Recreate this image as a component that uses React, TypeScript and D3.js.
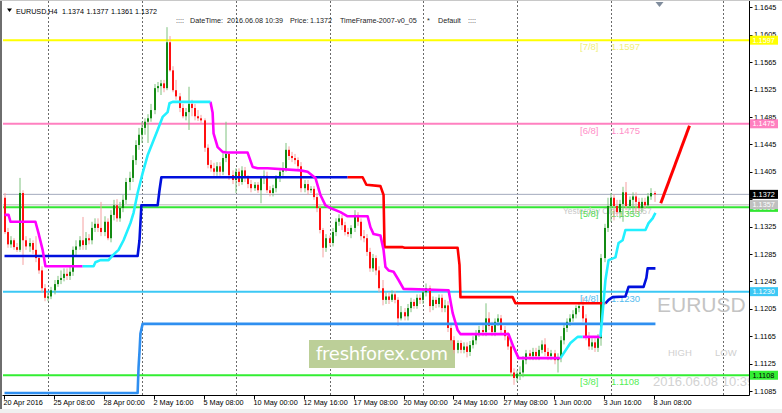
import * as d3 from "d3";

// EURUSD H4, 20 Apr 16:00 .. 8 Jun 08:00 2016 (one entry per bar)
const openPrices = [
  1.1367, 1.1317, 1.1299, 1.1305, 1.1295, 1.1291, 1.1374, 1.1305, 1.1296, 1.1301,
  1.1291, 1.1279, 1.1261, 1.1235, 1.1221, 1.1223, 1.1232, 1.1241, 1.1247, 1.125,
  1.1256, 1.1253, 1.1259, 1.1291, 1.1296, 1.1305, 1.1298, 1.1308, 1.1305, 1.1323,
  1.1329, 1.1323, 1.1317, 1.1332, 1.1308, 1.1342, 1.1356, 1.1337, 1.1352, 1.1364,
  1.139, 1.1396, 1.1422, 1.1444, 1.1459, 1.1469, 1.1478, 1.1483, 1.1495, 1.1527,
  1.153, 1.1534, 1.1527, 1.1594, 1.1553, 1.1524, 1.1515, 1.1498, 1.1486, 1.1492,
  1.1504, 1.1498, 1.1486, 1.1483, 1.148, 1.144, 1.1415, 1.141, 1.1405, 1.1413,
  1.1405, 1.1425, 1.1431, 1.14, 1.1393, 1.1405, 1.139, 1.1407, 1.1396, 1.1387,
  1.1381, 1.1386, 1.1378, 1.1396, 1.1399, 1.1378, 1.1374, 1.1381, 1.1396, 1.1405,
  1.141, 1.1437, 1.1428, 1.1425, 1.1422, 1.1413, 1.1381, 1.1387, 1.1378, 1.138,
  1.1368, 1.1352, 1.132, 1.1294, 1.1308, 1.1301, 1.1317, 1.1332, 1.1337, 1.1327,
  1.1317, 1.1314, 1.1323, 1.1342, 1.1332, 1.1311, 1.1308, 1.1288, 1.1264, 1.1279,
  1.1261, 1.1235, 1.1218, 1.1223, 1.1218, 1.1226, 1.1218, 1.1191, 1.12, 1.1194,
  1.1206, 1.1215, 1.1209, 1.1221, 1.1218, 1.1229, 1.1235, 1.1209, 1.1218, 1.1212,
  1.1221, 1.1206, 1.121, 1.1177, 1.1159, 1.1145, 1.1155, 1.1145, 1.115, 1.1142,
  1.1152, 1.1159, 1.1167, 1.1174, 1.1171, 1.1191, 1.118, 1.1171, 1.1186, 1.1191,
  1.1174, 1.1165, 1.115, 1.1112, 1.1104, 1.111, 1.1112, 1.113, 1.114, 1.1136,
  1.1142, 1.1136, 1.1145, 1.1153, 1.1142, 1.1136, 1.114, 1.113, 1.1133, 1.1159,
  1.1177, 1.1186, 1.1191, 1.1197, 1.1206, 1.1209, 1.1191, 1.1165, 1.115, 1.1156,
  1.1148, 1.1162, 1.1279, 1.1323, 1.1355, 1.1367, 1.1355, 1.1346, 1.1358, 1.1375,
  1.1355, 1.1364, 1.1369, 1.1361, 1.1352, 1.1361, 1.1356, 1.1369, 1.1374,
];
const highPrices = [
  1.1374, 1.1323, 1.1311, 1.1308, 1.1301, 1.1396, 1.1378, 1.1311, 1.1308, 1.1305,
  1.1311, 1.1283, 1.1267, 1.1241, 1.1229, 1.1237, 1.1247, 1.1253, 1.1261, 1.1264,
  1.1264, 1.1267, 1.1296, 1.1305, 1.1311, 1.1339, 1.1317, 1.1314, 1.1332, 1.1337,
  1.1337, 1.1361, 1.134, 1.1337, 1.1349, 1.1364, 1.1365, 1.1361, 1.1371, 1.1396,
  1.1405, 1.1429, 1.1451, 1.1469, 1.1478, 1.1483, 1.1489, 1.1504, 1.1533, 1.1536,
  1.1539, 1.1539, 1.1616, 1.1603, 1.1559, 1.1539, 1.152, 1.1504, 1.1498, 1.1529,
  1.151, 1.1504, 1.1495, 1.1488, 1.1483, 1.1445, 1.1422, 1.1418, 1.1419, 1.1419,
  1.1432, 1.1478, 1.1434, 1.1407, 1.141, 1.141, 1.1413, 1.1412, 1.14, 1.1393,
  1.139, 1.139, 1.1399, 1.1407, 1.1405, 1.1384, 1.1386, 1.14, 1.141, 1.1419,
  1.1447, 1.1442, 1.1434, 1.1431, 1.1426, 1.1419, 1.1393, 1.1393, 1.1384, 1.1384,
  1.1374, 1.1356, 1.1323, 1.1314, 1.1312, 1.1323, 1.1337, 1.1343, 1.1342, 1.1332,
  1.1323, 1.1327, 1.1349, 1.1346, 1.1337, 1.132, 1.1314, 1.1294, 1.1285, 1.1283,
  1.1267, 1.1247, 1.1229, 1.1229, 1.1232, 1.1231, 1.1222, 1.1209, 1.1206, 1.1212,
  1.1221, 1.1219, 1.1226, 1.1226, 1.1235, 1.1242, 1.1239, 1.1223, 1.1222, 1.1226,
  1.1226, 1.1218, 1.1216, 1.1183, 1.1165, 1.1159, 1.1159, 1.1156, 1.1156, 1.1158,
  1.1165, 1.1174, 1.118, 1.1181, 1.1213, 1.12, 1.1186, 1.1191, 1.1197, 1.1196,
  1.118, 1.1171, 1.1156, 1.1118, 1.1115, 1.1121, 1.1136, 1.1145, 1.1145, 1.1148,
  1.1148, 1.1151, 1.1159, 1.1162, 1.1148, 1.1145, 1.1145, 1.114, 1.1165, 1.1183,
  1.1191, 1.1197, 1.1203, 1.121, 1.1215, 1.1222, 1.1197, 1.1171, 1.1162, 1.1162,
  1.1168, 1.1285, 1.1329, 1.1367, 1.1374, 1.1372, 1.1364, 1.1364, 1.1383, 1.139,
  1.1369, 1.1375, 1.1375, 1.1367, 1.1367, 1.1367, 1.1374, 1.1381, 1.1377,
];
const lowPrices = [
  1.1314, 1.1294, 1.1294, 1.1291, 1.1288, 1.1288, 1.1269, 1.1291, 1.1288, 1.1285,
  1.1273, 1.1256, 1.1229, 1.1216, 1.1216, 1.1219, 1.1226, 1.1237, 1.1241, 1.1245,
  1.1247, 1.1247, 1.1253, 1.1282, 1.1291, 1.1291, 1.1291, 1.1299, 1.1299, 1.1317,
  1.1317, 1.1311, 1.1311, 1.1305, 1.1302, 1.1334, 1.1332, 1.1332, 1.1346, 1.1358,
  1.1378, 1.139, 1.1415, 1.1437, 1.1447, 1.1459, 1.1447, 1.1478, 1.1489, 1.1521,
  1.1517, 1.1521, 1.1524, 1.1551, 1.1521, 1.151, 1.1492, 1.1483, 1.148, 1.1466,
  1.1486, 1.148, 1.1479, 1.1475, 1.1434, 1.141, 1.1405, 1.1399, 1.1399, 1.1399,
  1.14, 1.1419, 1.1393, 1.1387, 1.1374, 1.1384, 1.1386, 1.139, 1.1381, 1.1375,
  1.1377, 1.1374, 1.1359, 1.1387, 1.1374, 1.1369, 1.1369, 1.1375, 1.139, 1.1399,
  1.1405, 1.1422, 1.1419, 1.1416, 1.1407, 1.1375, 1.1375, 1.1371, 1.1374, 1.1364,
  1.1346, 1.1315, 1.128, 1.1288, 1.1296, 1.1296, 1.1311, 1.1326, 1.132, 1.1312,
  1.131, 1.1308, 1.1317, 1.1326, 1.1305, 1.1302, 1.1282, 1.1259, 1.1259, 1.1254,
  1.1229, 1.121, 1.1212, 1.1212, 1.1215, 1.1213, 1.118, 1.1188, 1.1188, 1.1188,
  1.12, 1.1205, 1.1205, 1.1212, 1.1212, 1.1223, 1.12, 1.1203, 1.1206, 1.1207,
  1.12, 1.12, 1.1171, 1.1153, 1.114, 1.114, 1.114, 1.114, 1.1134, 1.1136,
  1.1147, 1.1153, 1.1164, 1.1165, 1.1165, 1.1174, 1.1165, 1.1165, 1.118, 1.1168,
  1.1159, 1.1145, 1.1107, 1.1094, 1.1098, 1.1101, 1.1105, 1.1124, 1.113, 1.113,
  1.113, 1.113, 1.114, 1.1136, 1.113, 1.113, 1.1124, 1.1112, 1.1127, 1.1153,
  1.1171, 1.118, 1.1186, 1.1191, 1.12, 1.1186, 1.1159, 1.1145, 1.1145, 1.1142,
  1.1142, 1.1151, 1.1273, 1.1317, 1.1332, 1.1334, 1.134, 1.1337, 1.1332, 1.1349,
  1.1349, 1.1343, 1.1346, 1.1346, 1.1346, 1.1351, 1.1353, 1.1364, 1.1361,
];
const closePrices = [
  1.1317, 1.1299, 1.1305, 1.1295, 1.1291, 1.1374, 1.1305, 1.1296, 1.1301, 1.1291,
  1.1279, 1.1261, 1.1235, 1.1221, 1.1223, 1.1232, 1.1241, 1.1247, 1.125, 1.1256,
  1.1253, 1.1259, 1.1291, 1.1296, 1.1305, 1.1298, 1.1308, 1.1305, 1.1323, 1.1329,
  1.1323, 1.1317, 1.1332, 1.1308, 1.1342, 1.1356, 1.1337, 1.1352, 1.1364, 1.139,
  1.1396, 1.1422, 1.1444, 1.1459, 1.1469, 1.1478, 1.1483, 1.1495, 1.1527, 1.153,
  1.1534, 1.1527, 1.1594, 1.1553, 1.1524, 1.1515, 1.1498, 1.1486, 1.1492, 1.1504,
  1.1498, 1.1486, 1.1483, 1.148, 1.144, 1.1415, 1.141, 1.1405, 1.1413, 1.1405,
  1.1425, 1.1431, 1.14, 1.1393, 1.1405, 1.139, 1.1407, 1.1396, 1.1387, 1.1381,
  1.1386, 1.1378, 1.1396, 1.1399, 1.1378, 1.1374, 1.1381, 1.1396, 1.1405, 1.141,
  1.1437, 1.1428, 1.1425, 1.1422, 1.1413, 1.1381, 1.1387, 1.1378, 1.138, 1.1368,
  1.1352, 1.132, 1.1294, 1.1308, 1.1301, 1.1317, 1.1332, 1.1337, 1.1327, 1.1317,
  1.1314, 1.1323, 1.1342, 1.1332, 1.1311, 1.1308, 1.1288, 1.1264, 1.1279, 1.1261,
  1.1235, 1.1218, 1.1223, 1.1218, 1.1226, 1.1218, 1.1191, 1.12, 1.1194, 1.1206,
  1.1215, 1.1209, 1.1221, 1.1218, 1.1229, 1.1235, 1.1209, 1.1218, 1.1212, 1.1221,
  1.1206, 1.121, 1.1177, 1.1159, 1.1145, 1.1155, 1.1145, 1.115, 1.1142, 1.1152,
  1.1159, 1.1167, 1.1174, 1.1171, 1.1191, 1.118, 1.1171, 1.1186, 1.1191, 1.1174,
  1.1165, 1.115, 1.1112, 1.1104, 1.111, 1.1112, 1.113, 1.114, 1.1136, 1.1142,
  1.1136, 1.1145, 1.1153, 1.1142, 1.1136, 1.114, 1.113, 1.1133, 1.1159, 1.1177,
  1.1186, 1.1191, 1.1197, 1.1206, 1.1209, 1.1191, 1.1165, 1.115, 1.1156, 1.1148,
  1.1162, 1.1279, 1.1323, 1.1355, 1.1367, 1.1355, 1.1346, 1.1358, 1.1375, 1.1355,
  1.1364, 1.1369, 1.1361, 1.1352, 1.1361, 1.1356, 1.1369, 1.1374, 1.1372,
];

// time axis
const timeLabelBars = [0, 16, 32, 48, 64, 80, 96, 112, 128, 144, 160, 176, 192, 208];
const timeLabels = [
  "20 Apr 2016", "25 Apr 08:00", "28 Apr 00:00", "2 May 16:00", "5 May 08:00",
  "10 May 00:00", "12 May 16:00", "17 May 08:00", "20 May 00:00", "24 May 16:00",
  "27 May 08:00", "1 Jun 00:00", "3 Jun 16:00", "8 Jun 08:00",
];
const gridBars = [14, 44, 74, 104, 134, 164, 194, 230];

// price axis
const priceTicks = [
  1.1085, 1.1125, 1.1165, 1.1205, 1.1245, 1.1285, 1.1325, 1.1365,
  1.1405, 1.1445, 1.1485, 1.1525, 1.1565, 1.1605, 1.1645,
];

// murrey levels
const levelNames = ["[7/8]", "[6/8]", "[5/8]", "[4/8]", "[3/8]"];
const levelPrices = [1.1597, 1.1475, 1.1353, 1.123, 1.1108];
const currentPrice = 1.1372;
const yesterdayClose = 1.1357;

// fast trend line: [bar, price] vertices, magenta when falling, cyan when rising
const fastDownSegments = [
  [[0, 1.1342], [1.3, 1.1342], [1.9, 1.1332], [9.9, 1.1332], [10.9, 1.1315], [12.2, 1.1291], [13.1, 1.1267], [25, 1.1267]],
  [[65.9, 1.1507], [66.6, 1.1491], [66.9, 1.1461], [68.2, 1.1441], [69.8, 1.1434], [71, 1.1433], [77.8, 1.1433],
    [79.4, 1.1412], [81, 1.141], [84.2, 1.141], [94.7, 1.1407], [97, 1.1405], [99.5, 1.1396], [101.1, 1.1371],
    [102.7, 1.1356], [104.3, 1.1352], [107.5, 1.1346], [109.8, 1.134], [116.2, 1.134], [117.1, 1.1324],
    [118.1, 1.1314], [120.3, 1.1312], [121.3, 1.1291], [121.9, 1.1266], [122.9, 1.1261], [124.5, 1.1259],
    [126.1, 1.1247], [127.7, 1.1234], [142.1, 1.1232], [143.4, 1.1199], [145, 1.1174], [145.9, 1.1168],
    [161.3, 1.1168], [162.9, 1.1149], [164.5, 1.1133], [177.9, 1.1133]],
  [[185, 1.1164], [190.7, 1.1164]],
];
const fastUpSegments = [
  [[25, 1.1267], [28.5, 1.1267], [29.1, 1.1273], [30.7, 1.1276], [33.3, 1.1276], [34.6, 1.1283], [36.5, 1.1291],
    [38.1, 1.1305], [40.3, 1.133], [41.3, 1.1345], [42.6, 1.1374], [44.2, 1.1403], [45.8, 1.1429], [47.7, 1.1451],
    [49, 1.1466], [50.6, 1.1485], [52.2, 1.1492], [52.8, 1.1505], [53.8, 1.1507], [65.9, 1.1507]],
  [[177.9, 1.1133], [181.1, 1.1155], [183.4, 1.1164], [185, 1.1164]],
  [[190.7, 1.1164], [191.4, 1.1199], [192.3, 1.1247], [193.3, 1.1276], [195.5, 1.128], [196.5, 1.1301],
    [197.8, 1.1305], [198.7, 1.132], [205.1, 1.132], [206.1, 1.133], [207.4, 1.1337], [208.3, 1.1345]],
];

// slow trend line: blue rising, red falling
const slowUpSegments = [
  [[0, 1.1282], [42.6, 1.1282], [43.2, 1.1305], [43.8, 1.1356], [49, 1.1356], [49.6, 1.1378], [50.2, 1.1397], [109.8, 1.1397]],
  [[192.3, 1.1213], [193.3, 1.1218], [194.6, 1.1222], [198.7, 1.1223], [199.7, 1.1237], [204.5, 1.1237],
    [205.4, 1.125], [205.8, 1.1264], [208.3, 1.1264]],
];
const slowDownSegments = [
  [[109.8, 1.1397], [114.6, 1.1397], [115.8, 1.1386], [120.3, 1.1384], [121.3, 1.1371], [121.6, 1.1295],
    [127.4, 1.1295], [128, 1.1294], [145, 1.1294], [145.6, 1.1269], [145.9, 1.1222], [162.6, 1.1222],
    [163.5, 1.1213], [192.3, 1.1213]],
];
const weeklyLine = [[0, 1.1082], [42.6, 1.1082], [42.9, 1.112], [43.2, 1.1142], [43.5, 1.1169], [44.2, 1.1183], [208.3, 1.1183]];
const projectionLine = [[210, 1.1359], [219.2, 1.1472]];

const W = 782;
const H = 413;
const plotLeft = 2.5;
const plotRight = 749.5;
const plotTop = 1;
const plotBottom = 395.5;

const x = d3.scaleLinear().domain([0, 208]).range([4.5, 654.5]);
const y = d3.scaleLinear().domain([1.1085, 1.1645]).range([391, 7.3]);
const lineGen = d3
  .line<number[]>()
  .x((d) => x(d[0]))
  .y((d) => y(d[1]));

const levelLineColors = ["#ffff00", "#ff80c0", "#33e633", "#3cc8f5", "#33ee33"];
const levelTextColors = ["#f0f07a", "#ff8fc8", "#55dd55", "#55bbee", "#55ee55"];
const levelBoxText = ["#ffffff", "#ffffff", "#ffffff", "#ffffff", "#000000"];

const fmt = (p: number) => p.toFixed(4);

export default function App() {
  const n = closePrices.length;
  const last = n - 1;
  const axisBoxes = [
    { p: levelPrices[0], fill: levelLineColors[0], text: levelBoxText[0] },
    { p: levelPrices[1], fill: levelLineColors[1], text: levelBoxText[1] },
    { p: levelPrices[2], fill: levelLineColors[2], text: levelBoxText[2] },
    { p: yesterdayClose, fill: "#c0c0c0", text: "#ffffff" },
    { p: currentPrice, fill: "#000000", text: "#ffffff" },
    { p: levelPrices[3], fill: levelLineColors[3], text: levelBoxText[3] },
    { p: levelPrices[4], fill: levelLineColors[4], text: levelBoxText[4] },
  ];
  // tick labels fully covered by the price boxes are not drawn
  const hiddenTick = (p: number) =>
    Math.abs(y(p) - y(currentPrice)) < 7 && Math.abs(y(p) - y(yesterdayClose)) < 7;

  return (
    <svg
      width={W}
      height={H}
      style={{ position: "absolute", left: 0, top: 0, background: "#ffffff" }}
      fontFamily="'Liberation Sans', Arial, sans-serif"
    >
      <defs>
        <clipPath id="plot">
          <rect x={plotLeft + 0.5} y={plotTop} width={plotRight - plotLeft - 0.5} height={plotBottom - plotTop} />
        </clipPath>
      </defs>
      <rect width={W} height={H} fill="#ffffff" />
      <rect x={0} y={409} width={W} height={4} fill="#f0f0f0" />

      <g clipPath="url(#plot)">
        {/* grid */}
        {gridBars.map((b) => (
          <line
            key={"g" + b}
            x1={Math.round(x(b)) + 0.5}
            x2={Math.round(x(b)) + 0.5}
            y1={plotTop}
            y2={plotBottom}
            stroke="#6a6a6a"
            strokeDasharray="2,2"
          />
        ))}

        {/* watermark + big labels */}
        <rect x={309} y={340} width={146} height={28} fill="#bccf98" />
        <text x={316} y={360} fontFamily="'DejaVu Sans', sans-serif" fontSize={18} fill="#ffffff" textLength={132}>
          freshforex.com
        </text>
        <text x={657} y={311.5} fontSize={21} fill="#c4c4c4">EURUSD</text>
        <text x={668} y={356} fontSize={9.5} fill="#d0d0d0">HIGH</text>
        <text x={715} y={356} fontSize={9.5} fill="#d0d0d0">LOW</text>
        <text x={653} y={386} fontSize={13} fill="#d2d2d2">2016.06.08 10:39</text>

        {/* horizontal levels */}
        <line x1={plotLeft} x2={plotRight} y1={y(currentPrice)} y2={y(currentPrice)} stroke="#a3abbd" strokeWidth={1} />
        <line x1={plotLeft} x2={plotRight} y1={y(yesterdayClose)} y2={y(yesterdayClose)} stroke="#cfcfcf" strokeWidth={1.5} />
        {levelPrices.map((p, i) => (
          <line
            key={"l" + i}
            x1={plotLeft}
            x2={plotRight}
            y1={y(p)}
            y2={y(p)}
            stroke={levelLineColors[i]}
            strokeWidth={2}
          />
        ))}
        <text x={563} y={y(yesterdayClose) + 9} fontSize={8.4} fill="#c8c8c8">
          Yesterday Close {fmt(yesterdayClose)}
        </text>
        {levelPrices.map((p, i) => (
          <g key={"lt" + i} fontSize={9.5} fill={levelTextColors[i]}>
            <text x={580} y={y(p) + 10}>{levelNames[i]}</text>
            <text x={611} y={y(p) + 10}>{fmt(p)}</text>
          </g>
        ))}

        {/* candles */}
        {closePrices.map((c, i) => {
          const o = openPrices[i];
          const bull = c >= o;
          const cx = Math.round(x(i));
          const top = y(Math.max(o, c));
          const bot = y(Math.min(o, c));
          return (
            <g key={"c" + i}>
              <line
                x1={cx}
                x2={cx}
                y1={y(highPrices[i])}
                y2={y(lowPrices[i])}
                stroke={bull ? "#7fc27f" : "#f5a0a0"}
                strokeWidth={1}
              />
              <rect
                x={cx - 1}
                y={top}
                width={2}
                height={Math.max(1, bot - top)}
                fill={bull ? "#138a13" : "#ff1010"}
              />
            </g>
          );
        })}

        {/* indicator lines */}
        <g fill="none" strokeWidth={2.6} strokeLinejoin="round">
          <path d={lineGen(weeklyLine) ?? ""} stroke="#2f8ff0" />
          {slowUpSegments.map((s, i) => (
            <path key={"su" + i} d={lineGen(s) ?? ""} stroke="#0010dd" />
          ))}
          {slowDownSegments.map((s, i) => (
            <path key={"sd" + i} d={lineGen(s) ?? ""} stroke="#ff0000" />
          ))}
          {fastDownSegments.map((s, i) => (
            <path key={"fd" + i} d={lineGen(s) ?? ""} stroke="#ff00ff" />
          ))}
          {fastUpSegments.map((s, i) => (
            <path key={"fu" + i} d={lineGen(s) ?? ""} stroke="#22f0ff" />
          ))}
          <path d={lineGen(projectionLine) ?? ""} stroke="#ff0000" strokeWidth={3} />
        </g>

        {/* chart shift marker */}
        <path
          d={`M${x(209.6) - 4},2 L${x(209.6) + 4},2 L${x(209.6)},7 Z`}
          fill="#7f8c9c"
        />
      </g>

      {/* header */}
      <path d="M7,8.5 L12,8.5 L9.5,12 Z" fill="#000" />
      <g fontSize={7.2} fill="#000">
        <text x={16} y={13.5}>EURUSD,H4</text>
        <text x={62} y={13.5}>{fmt(openPrices[last])}</text>
        <text x={86.5} y={13.5}>{fmt(highPrices[last])}</text>
        <text x={111} y={13.5}>{fmt(lowPrices[last])}</text>
        <text x={135} y={13.5}>{fmt(closePrices[last])}</text>
      </g>
      <g fontSize={7.2} fill="#222">
        <text x={176} y={23}>::::</text>
        <text x={190} y={23}>DateTime:</text>
        <text x={227} y={23}>2016.06.08 10:39</text>
        <text x={290} y={23}>Price:</text>
        <text x={310} y={23}>{fmt(currentPrice)}</text>
        <text x={340} y={23}>TimeFrame-2007-v0_05</text>
        <text x={427} y={23}>*</text>
        <text x={438} y={23}>Default</text>
        <text x={468} y={23}>::::</text>
      </g>

      {/* frame */}
      <rect x={0} y={0} width={2} height={409} fill="#6e6e6e" />
      <line x1={0} x2={W} y1={0.5} y2={0.5} stroke="#c8c8c8" />
      <line x1={plotRight} x2={plotRight} y1={plotTop} y2={plotBottom} stroke="#000" />
      <line x1={plotLeft} x2={plotRight} y1={plotBottom} y2={plotBottom} stroke="#000" />

      {/* price axis */}
      <g fontSize={7.3} fill="#000">
        {priceTicks.map((p) => (
          <g key={"p" + p}>
            <line x1={plotRight} x2={plotRight + 3} y1={Math.round(y(p)) + 0.5} y2={Math.round(y(p)) + 0.5} stroke="#000" />
            {!hiddenTick(p) && <text x={754} y={y(p) + 2.6}>{fmt(p)}</text>}
          </g>
        ))}
      </g>
      {axisBoxes.map((b, i) => (
        <g key={"b" + i}>
          <rect x={750} y={y(b.p) - 4.5} width={28} height={9} fill={b.fill} />
          <text x={752.5} y={y(b.p) + 2.7} fontSize={7.3} fill={b.text}>{fmt(b.p)}</text>
        </g>
      ))}

      {/* time axis */}
      <g fontSize={7.3} fill="#000">
        {timeLabelBars.map((b, i) => (
          <g key={"t" + b}>
            <line x1={Math.round(x(b)) - 0.5} x2={Math.round(x(b)) - 0.5} y1={plotBottom} y2={plotBottom + 4} stroke="#000" />
            <text x={x(b) - 1} y={405}>{timeLabels[i]}</text>
          </g>
        ))}
      </g>
    </svg>
  );
}
